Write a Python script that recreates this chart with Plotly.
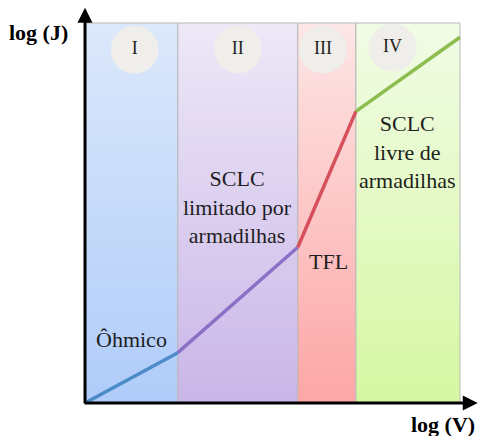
import plotly.graph_objects as go

# J-V regimes on a log-log sketch (arbitrary log units)
region_names = ["I", "II", "III", "IV"]
region_edges = [0.0, 0.99, 2.27, 2.89, 4.0]
region_top = 4.0
curve_x = [0.0, 0.99, 2.27, 2.89, 4.0]
curve_y = [0.0, 0.53, 1.64, 3.07, 3.85]
regime_labels = ["Ôhmico", "SCLC<br>limitado por<br>armadilhas", "TFL", "SCLC<br>livre de<br>armadilhas"]

# styling
region_grad = [("#afccf9", "#dce8fb"), ("#c9b6e8", "#eee8f7"),
               ("#fda6a6", "#fde6e6"), ("#d6f7a2", "#f1fce6")]
segment_colors = ["#4b8bc8", "#8b70c6", "#d6505c", "#8dbd4f"]
numeral_pos = [(0.53, 3.72), (1.63, 3.72), (2.54, 3.72), (3.28, 3.74)]
label_pos = [(0.50, 0.67), (1.63, 2.06), (2.60, 1.49), (3.44, 2.64)]
serif = "Liberation Serif"

fig = go.Figure()

# shaded regime bands with vertical gradients
for i in range(len(region_names)):
    x0, x1 = region_edges[i], region_edges[i + 1]
    lo, hi = region_grad[i]
    fig.add_trace(go.Scatter(
        x=[x0, x1, x1, x0, x0], y=[0, 0, region_top, region_top, 0],
        mode="lines", fill="toself",
        line=dict(color="#b9b9b9", width=1),
        fillgradient=dict(type="vertical", colorscale=[[0, lo], [1, hi]]),
        hoverinfo="skip", showlegend=False))

# circles holding the roman numerals
fig.add_trace(go.Scatter(
    x=[p[0] for p in numeral_pos], y=[p[1] for p in numeral_pos],
    mode="markers+text", text=region_names, textposition="middle center",
    textfont=dict(family=serif, size=18, color="#222222"),
    marker=dict(size=48, color="#efeeea", line=dict(width=0)),
    hoverinfo="skip", showlegend=False))

# piecewise J-V curve, one colour per regime
for i in range(len(curve_x) - 1):
    fig.add_trace(go.Scatter(
        x=curve_x[i:i + 2], y=curve_y[i:i + 2], mode="lines",
        line=dict(color=segment_colors[i], width=3.5),
        hoverinfo="skip", showlegend=False))

# regime descriptions
for (lx, ly), txt in zip(label_pos, regime_labels):
    fig.add_annotation(x=lx, y=ly, text=txt, showarrow=False,
                       font=dict(family=serif, size=22, color="#1e1e1e"),
                       align="center")

# axes drawn as arrows
fig.add_annotation(x=0, y=4.16, ax=0, ay=-0.02, xref="x", yref="y", axref="x", ayref="y",
                   showarrow=True, arrowhead=2, arrowsize=1, arrowwidth=3, arrowcolor="#000000", text="")
fig.add_annotation(x=4.19, y=0, ax=-0.02, ay=0, xref="x", yref="y", axref="x", ayref="y",
                   showarrow=True, arrowhead=2, arrowsize=1, arrowwidth=3, arrowcolor="#000000", text="")
fig.add_annotation(x=-0.50, y=3.90, text="<b>log (J)</b>", showarrow=False,
                   font=dict(family=serif, size=22, color="#000000"))
fig.add_annotation(x=3.82, y=-0.23, text="<b>log (V)</b>", showarrow=False,
                   font=dict(family=serif, size=22, color="#000000"))

fig.update_xaxes(range=[-0.907, 4.203], visible=False, fixedrange=True)
fig.update_yaxes(range=[-0.347, 4.242], visible=False, fixedrange=True)
fig.update_layout(width=479, height=436, margin=dict(l=0, r=0, t=0, b=0),
                  paper_bgcolor="white", plot_bgcolor="white")

fig.write_html("out.html")
